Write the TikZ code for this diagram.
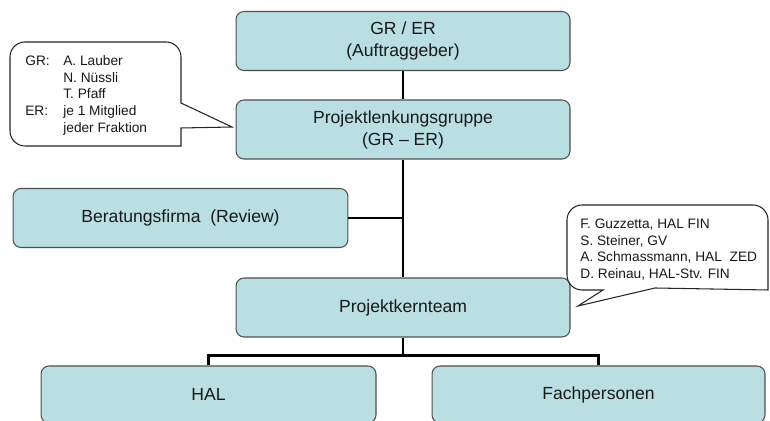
\documentclass[tikz,border=0pt]{standalone}
\usepackage{fontspec}
\setmainfont{Liberation Sans}
\definecolor{boxfill}{HTML}{B9DFE3}
\definecolor{boxline}{HTML}{4F4F4F}
\tikzset{
  orgbox/.style={draw=boxline, fill=boxfill, rounded corners=0.16cm, line width=0.6pt,
    minimum width=6.68cm, minimum height=1.18cm, align=center,
    font=\fontsize{10}{12.5}\selectfont, text=black!90},
  link/.style={line width=1.2pt, black},
  callout/.style={draw=black!85, fill=white, line width=0.6pt},
  calltext/.style={font=\fontsize{7.8}{9.5}\selectfont, align=left, inner sep=0pt,
    anchor=north west, text=black!90}
}
\begin{document}
\begin{tikzpicture}[x=0.02cm, y=-0.02cm]
  \useasboundingbox (0,0) rectangle (770,421);

  % Organisation boxes
  \node[orgbox] (gr) at (403,41) {GR / ER\\(Auftraggeber)};
  \node[orgbox] (plg) at (403,129.5) {Projektlenkungsgruppe\\(GR -- ER)};
  \node[orgbox, minimum width=6.7cm] (bf) at (180.5,218) {Beratungsfirma\ \ (Review)};
  \node[orgbox] (pkt) at (403,307.5) {Projektkernteam};
  \node[orgbox, minimum width=6.7cm, minimum height=1.14cm] (hal) at (208.5,394.5) {HAL};
  \node[orgbox, minimum width=6.66cm, minimum height=1.14cm] (fach) at (598.5,394.5) {Fachpersonen};

  % Connections
  \coordinate (bar) at (403,355.5);
  \draw[link] (gr.south) -- (plg.north);
  \draw[link] (plg.south) -- (pkt.north);
  \draw[link] (bf.east) -- (bf.east -| plg.south);
  \draw[link] (pkt.south) -- (bar);
  \draw[link] (hal.north) |- (bar) -| (fach.north);

  % Callout GR / ER
  \draw[callout] (232,127) -- (181,128) -- (181,146) [rounded corners=0.3cm]
    -- (10,146) -- (10,42) -- (181,42) [sharp corners] -- (181,103) -- cycle;
  \node[calltext] (members) at (25,53.3) {%
    \begin{tabular}{@{}p{0.76cm}@{}l@{}}
      GR: & A. Lauber\\
          & N. N\"ussli\\
          & T. Pfaff\\
      ER: & je 1 Mitglied\\
          & jeder Fraktion
    \end{tabular}};

  % Callout Kernteam
  \draw[callout] (578,306) -- (655,288) -- (768,290) [rounded corners=0.3cm]
    -- (768,205) -- (567,205) -- (567,290) [sharp corners] -- (603,290) -- cycle;
  \node[calltext] (team) at (580,218.5) {F. Guzzetta,\ HAL FIN\\
    S. Steiner, GV\\
    A. Schmassmann, HAL\ \ ZED\\
    D. Reinau, HAL-Stv. FIN};
\end{tikzpicture}
\end{document}
